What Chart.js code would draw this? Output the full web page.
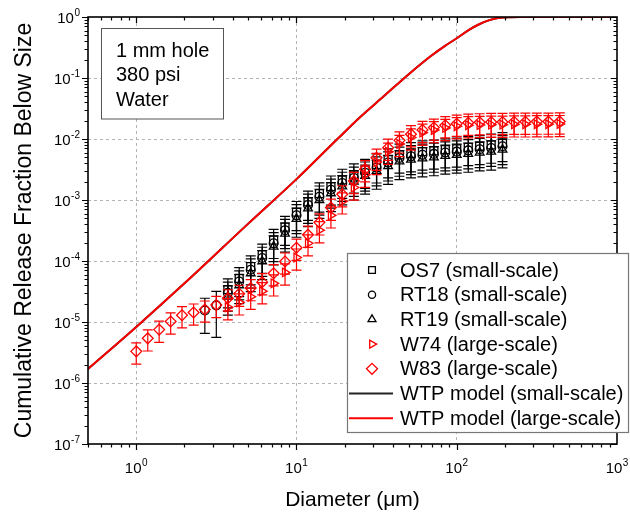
<!DOCTYPE html>
<html>
<head>
<meta charset="utf-8">
<script src="https://cdn.jsdelivr.net/npm/chart.js@4.4.1/dist/chart.umd.min.js"></script>
<style>
  html, body { margin: 0; padding: 0; background: #fff; }
</style>
</head>
<body>
<canvas id="releaseChart" width="630" height="518"></canvas>
<script>
// Diameter bins (um) shared by all measured series
const diameters = [
  1.00, 1.18, 1.39, 1.64, 1.93, 2.28, 2.68, 3.16, 3.73, 4.39,
  5.18, 6.11, 7.20, 8.48, 10.0, 11.8, 13.9, 16.4, 19.3, 22.8,
  26.8, 31.6, 37.3, 43.9, 51.8, 61.1, 72.0, 84.8, 100, 118,
  139, 164, 193, 228, 268, 316, 373, 439
];

// Small-scale tests (null = no data in that bin)
const os7 = [
  null, null, null, null, null, null, null, null, 3.4e-5, 5.2e-5,
  8.1e-5, 1.26e-4, 2.2e-4, 3.6e-4, 6.3e-4, 9.3e-4, 1.27e-3, 1.65e-3, 2.13e-3, 2.6e-3,
  3.1e-3, 3.8e-3, 4.6e-3, 5.5e-3, 5.8e-3, 6.2e-3, 6.4e-3, 6.7e-3, 6.9e-3, 7.3e-3,
  7.6e-3, 8.0e-3, 8.5e-3
];
const rt18 = [
  null, null, null, null, null, null, 1.55e-5, 1.87e-5, 3.0e-5, 4.6e-5,
  7.2e-5, 1.12e-4, 1.95e-4, 3.2e-4, 5.6e-4, 8.3e-4, 1.13e-3, 1.47e-3, 1.9e-3, 2.3e-3,
  2.8e-3, 3.4e-3, 4.1e-3, 4.9e-3, 5.2e-3, 5.5e-3, 5.7e-3, 6.0e-3, 6.2e-3, 6.5e-3,
  6.8e-3, 7.1e-3, 7.6e-3
];
const rt19 = [
  null, null, null, null, null, null, null, null, 2.6e-5, 4.0e-5,
  6.3e-5, 9.9e-5, 1.72e-4, 2.8e-4, 4.9e-4, 7.3e-4, 1.0e-3, 1.29e-3, 1.67e-3, 2.0e-3,
  2.5e-3, 3.0e-3, 3.6e-3, 4.3e-3, 4.6e-3, 4.8e-3, 5.0e-3, 5.3e-3, 5.5e-3, 5.7e-3,
  6.0e-3, 6.2e-3, 6.7e-3
];

// Large-scale tests
const w74 = [
  null, null, null, null, null, null, null, null, 1.75e-5, 2.1e-5,
  2.6e-5, 3.2e-5, 4.3e-5, 6.5e-5, 1.14e-4, 1.95e-4, 3.2e-4, 5.6e-4, 9.5e-4, 1.6e-3,
  2.6e-3, 4.2e-3, 6.2e-3, 8.3e-3, 1.06e-2, 1.27e-2, 1.4e-2, 1.52e-2, 1.62e-2, 1.68e-2,
  1.7e-2, 1.72e-2, 1.72e-2, 1.74e-2, 1.74e-2, 1.75e-2, 1.75e-2, 1.76e-2
];
const w83 = [
  3.3e-6, 5.4e-6, 7.5e-6, 1.02e-5, 1.29e-5, 1.43e-5, 1.6e-5, 1.9e-5, 2.45e-5, 2.9e-5,
  3.6e-5, 4.5e-5, 6.3e-5, 9.8e-5, 1.65e-4, 2.7e-4, 4.3e-4, 7.5e-4, 1.24e-3, 2.05e-3,
  3.2e-3, 4.95e-3, 7.2e-3, 9.5e-3, 1.2e-2, 1.41e-2, 1.54e-2, 1.68e-2, 1.78e-2, 1.85e-2,
  1.88e-2, 1.9e-2, 1.9e-2, 1.92e-2, 1.92e-2, 1.93e-2, 1.93e-2, 1.94e-2
];

// Relative error (fraction of value) for the error bars
const rt18Err = [0, 0, 0, 0, 0, 0, 0.58, 0.7];
const smallErr = 0.5;
const largeErr = 0.38;

// WTP model curves (small-scale curve lies under the large-scale one)
const modelD = [0.5, 1, 2, 5, 10, 18, 25, 35, 51, 69, 85, 99, 120, 138, 160, 184, 210, 250, 1000];
const modelLarge = [1.7e-6, 8.3e-6, 4.3e-5, 4.1e-4, 2.2e-3, 1.0e-2, 2.3e-2, 5.0e-2, 0.12, 0.23,
  0.34, 0.44, 0.62, 0.76, 0.89, 0.97, 0.995, 1.0, 1.0];
const modelSmall = modelLarge.slice();

// Axis ticks
const xDecades = [1, 10, 100];
const xLabelExp = [0, 1, 2, 3];
const yLabelExp = [0, -1, -2, -3, -4, -5, -6, -7];

const RED = '#ff0000';
const BLACK = '#000000';
const FONT = '"Liberation Sans", Arial, Helvetica, sans-serif';

function toPoints(xs, ys) {
  const pts = [];
  ys.forEach((v, i) => { if (v != null) pts.push({ x: xs[i], y: v }); });
  return pts;
}

function errFor(ds, x) {
  if (ds.errList) {
    const i = diameters.indexOf(x);
    if (i >= 0 && ds.errList[i]) return ds.errList[i];
  }
  return ds.errFrac;
}

function markerSet(label, values, style, color, radius, order, errFrac, extra) {
  return Object.assign({
    label: label,
    data: toPoints(diameters, values),
    pointStyle: style,
    pointRadius: radius,
    pointHoverRadius: radius,
    pointBorderColor: color,
    pointBackgroundColor: 'rgba(0,0,0,0)',
    pointBorderWidth: 1.3,
    borderColor: color,
    showLine: false,
    order: order,
    errFrac: errFrac
  }, extra || {});
}

// Error bars drawn right before each dataset's own markers
const errorBars = {
  id: 'errorBars',
  beforeDatasetDraw(chart, args) {
    const ds = chart.data.datasets[args.index];
    if (!ds.errFrac) return;
    const { ctx, chartArea: a, scales: { x, y } } = chart;
    ctx.save();
    ctx.beginPath();
    ctx.rect(a.left, a.top, a.right - a.left, a.bottom - a.top);
    ctx.clip();
    ctx.strokeStyle = ds.borderColor;
    ctx.lineWidth = 1.2;
    ds.data.forEach(p => {
      const e = errFor(ds, p.x);
      const px = x.getPixelForValue(p.x);
      const yHi = y.getPixelForValue(p.y * (1 + e));
      const yLo = y.getPixelForValue(p.y * (1 - e));
      ctx.beginPath();
      ctx.moveTo(px, yHi); ctx.lineTo(px, yLo);
      ctx.moveTo(px - 5, yHi); ctx.lineTo(px + 5, yHi);
      ctx.moveTo(px - 5, yLo); ctx.lineTo(px + 5, yLo);
      ctx.stroke();
    });
    ctx.restore();
  }
};

function drawPower(ctx, exp, x, y, align) {
  ctx.font = '15px ' + FONT;
  const wb = ctx.measureText('10').width;
  ctx.font = '10px ' + FONT;
  const ws = ctx.measureText(String(exp)).width;
  const total = wb + ws + 0.5;
  const x0 = align === 'center' ? x - total / 2 : x - total;
  ctx.textAlign = 'left';
  ctx.textBaseline = 'middle';
  ctx.font = '15px ' + FONT;
  ctx.fillText('10', x0, y);
  ctx.font = '10px ' + FONT;
  ctx.fillText(String(exp), x0 + wb + 0.5, y - 6);
}

function legendMarker(ctx, item, x, y) {
  ctx.save();
  ctx.strokeStyle = item.color;
  ctx.fillStyle = 'rgba(0,0,0,0)';
  ctx.lineWidth = 1.3;
  Chart.helpers.drawPoint(ctx, {
    pointStyle: item.style, rotation: item.rotation || 0, radius: item.r, borderWidth: 1.3
  }, x, y);
  ctx.restore();
}

// Frame, ticks, labels, titles, note box and legend
const frame = {
  id: 'frame',
  afterDraw(chart) {
    const { ctx, chartArea: a, scales: { x, y } } = chart;
    ctx.save();
    ctx.strokeStyle = BLACK;
    ctx.fillStyle = BLACK;

    // minor + major ticks
    ctx.lineWidth = 1.2;
    ctx.beginPath();
    [0.1, 1, 10, 100].forEach(dec => {
      for (let m = 1; m <= 9; m++) {
        const v = dec * m;
        if (v < 0.5 || v > 1000) continue;
        const px = Math.round(x.getPixelForValue(v)) + 0.5;
        const len = m === 1 ? 6 : 3.5;
        ctx.moveTo(px, a.bottom); ctx.lineTo(px, a.bottom + len);
        ctx.moveTo(px, a.top); ctx.lineTo(px, a.top + len);
      }
    });
    for (let e = -7; e <= 0; e++) {
      for (let m = 1; m <= 9; m++) {
        const v = m * Math.pow(10, e);
        if (v > 1) continue;
        const py = Math.round(y.getPixelForValue(v)) + 0.5;
        const len = m === 1 ? 6 : 3.5;
        ctx.moveTo(a.left, py); ctx.lineTo(a.left - len, py);
        ctx.moveTo(a.right, py); ctx.lineTo(a.right - len, py);
      }
    }
    ctx.stroke();

    ctx.lineWidth = 1.6;
    ctx.strokeRect(a.left, a.top, a.right - a.left, a.bottom - a.top);

    // tick labels
    xLabelExp.forEach(e => drawPower(ctx, e, x.getPixelForValue(Math.pow(10, e)), a.bottom + 25, 'center'));
    yLabelExp.forEach(e => drawPower(ctx, e, a.left - 8, y.getPixelForValue(Math.pow(10, e)) + 2, 'right'));

    // axis titles
    ctx.textAlign = 'center';
    ctx.textBaseline = 'middle';
    ctx.font = '21px ' + FONT;
    ctx.fillText('Diameter (\u03bcm)', (a.left + a.right) / 2, 500);
    ctx.save();
    ctx.translate(25, (a.top + a.bottom) / 2);
    ctx.rotate(-Math.PI / 2);
    ctx.font = '23px ' + FONT;
    ctx.fillText('Cumulative Release Fraction Below Size', 0, 0);
    ctx.restore();

    // note box
    ctx.fillStyle = '#fff';
    ctx.fillRect(101.5, 28.5, 122, 90.5);
    ctx.strokeStyle = '#555';
    ctx.lineWidth = 1;
    ctx.strokeRect(101.5, 28.5, 122, 90.5);
    ctx.fillStyle = BLACK;
    ctx.textAlign = 'left';
    ctx.textBaseline = 'alphabetic';
    ctx.font = '20px ' + FONT;
    ['1 mm hole', '380 psi', 'Water'].forEach((t, i) => ctx.fillText(t, 116, 57 + i * 24.3));

    // legend
    const items = [
      { text: 'OS7 (small-scale)', style: 'rect', color: BLACK, r: 4.8 },
      { text: 'RT18 (small-scale)', style: 'circle', color: BLACK, r: 3.6 },
      { text: 'RT19 (small-scale)', style: 'triangle', color: BLACK, r: 4.6 },
      { text: 'W74 (large-scale)', style: 'triangle', rotation: 90, color: RED, r: 4.6 },
      { text: 'W83 (large-scale)', style: 'rectRot', color: RED, r: 5.5 },
      { text: 'WTP model (small-scale)', line: '#222' },
      { text: 'WTP model (large-scale)', line: RED }
    ];
    ctx.fillStyle = '#fff';
    ctx.fillRect(347.5, 253.5, 281, 179);
    ctx.strokeStyle = '#777';
    ctx.lineWidth = 1.2;
    ctx.strokeRect(347.5, 253.5, 281, 179);
    items.forEach((it, i) => {
      const ry = 270 + i * 24.7;
      if (it.line) {
        ctx.strokeStyle = it.line;
        ctx.lineWidth = 2;
        ctx.beginPath();
        ctx.moveTo(349, ry); ctx.lineTo(393, ry);
        ctx.stroke();
      } else {
        legendMarker(ctx, it, 372, ry);
      }
      ctx.fillStyle = BLACK;
      ctx.font = '20px ' + FONT;
      ctx.textAlign = 'left';
      ctx.textBaseline = 'middle';
      ctx.fillText(it.text, 400, ry + 1);
    });
    ctx.restore();
  }
};

new Chart(document.getElementById('releaseChart'), {
  type: 'scatter',
  data: {
    datasets: [
      {
        label: 'WTP model (large-scale)',
        data: toPoints(modelD, modelLarge),
        showLine: true,
        borderColor: RED,
        borderWidth: 2,
        pointRadius: 0,
        cubicInterpolationMode: 'monotone',
        order: 0
      },
      {
        label: 'WTP model (small-scale)',
        data: toPoints(modelD, modelSmall),
        showLine: true,
        borderColor: '#222',
        borderWidth: 2,
        pointRadius: 0,
        cubicInterpolationMode: 'monotone',
        order: 1
      },
      markerSet('W83 (large-scale)', w83, 'rectRot', RED, 5.4, 2, largeErr),
      markerSet('W74 (large-scale)', w74, 'triangle', RED, 5, 3, largeErr, { pointRotation: 90 }),
      markerSet('RT19 (small-scale)', rt19, 'triangle', BLACK, 5, 4, smallErr),
      markerSet('RT18 (small-scale)', rt18, 'circle', BLACK, 4.4, 5, smallErr, { errList: rt18Err }),
      markerSet('OS7 (small-scale)', os7, 'rect', BLACK, 5.6, 6, smallErr)
    ]
  },
  options: {
    responsive: false,
    animation: false,
    devicePixelRatio: 1,
    layout: { padding: { top: 17, right: 13, left: 0, bottom: 0 } },
    plugins: {
      legend: { display: false },
      tooltip: { enabled: false }
    },
    scales: {
      x: {
        type: 'logarithmic',
        min: 0.5,
        max: 1000,
        afterFit: s => { s.height = 74; },
        afterBuildTicks: s => { s.ticks = xDecades.map(v => ({ value: v })); },
        ticks: { display: false },
        grid: { drawTicks: false, color: '#b4b4b4', lineWidth: 1 },
        border: { display: false, dash: [3, 3] }
      },
      y: {
        type: 'logarithmic',
        min: 1e-7,
        max: 1,
        afterFit: s => { s.width = 88; },
        afterBuildTicks: s => { s.ticks = [1e-6, 1e-5, 1e-4, 1e-3, 1e-2, 1e-1].map(v => ({ value: v })); },
        ticks: { display: false },
        grid: { drawTicks: false, color: '#b4b4b4', lineWidth: 1 },
        border: { display: false, dash: [3, 3] }
      }
    }
  },
  plugins: [errorBars, frame]
});
</script>
</body>
</html>
